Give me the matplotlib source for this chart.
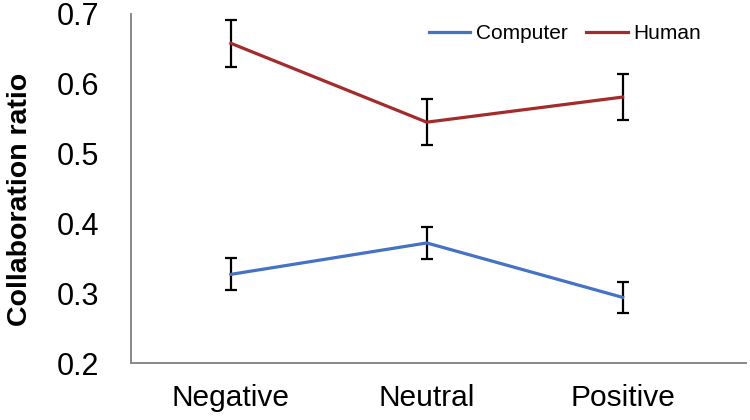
import matplotlib.pyplot as plt
import numpy as np

plt.rcParams['font.family'] = ['Liberation Sans', 'DejaVu Sans']

categories = ["Negative", "Neutral", "Positive"]
computer = [0.327, 0.372, 0.294]
computer_err = [0.023, 0.023, 0.022]
human = [0.658, 0.545, 0.581]
human_err = [0.034, 0.033, 0.033]

fig = plt.figure(figsize=(7.5, 4.2), dpi=100)
ax = fig.add_axes([0.1747, 0.1357, 0.82, 0.831])

x = np.arange(len(categories))
ax.errorbar(x, computer, yerr=computer_err, color='#4472C4', lw=2.3,
            ecolor='black', elinewidth=1.6, capsize=4.5, capthick=1.6, label='Computer')
ax.errorbar(x, human, yerr=human_err, color='#A52A2A', lw=2.3,
            ecolor='black', elinewidth=1.6, capsize=4.5, capthick=1.6, label='Human')

ax.set_xlim(-0.51, 2.63)
ax.set_ylim(0.2, 0.7)
ax.set_yticks([0.2, 0.3, 0.4, 0.5, 0.6, 0.7])
ax.set_yticklabels(["0.2", "0.3", "0.4", "0.5", "0.6", "0.7"])
ax.set_xticks(x)
ax.set_xticklabels(categories)
ax.tick_params(axis='y', length=0, pad=23, labelsize=22)
ax.tick_params(axis='x', length=0, pad=15, labelsize=21.5)
ax.set_ylabel("Collaboration ratio", fontsize=20.5, fontweight='bold')
ax.yaxis.set_label_coords(-0.16, 0.47)

for s in ['top', 'right']:
    ax.spines[s].set_visible(False)
for s in ['left', 'bottom']:
    ax.spines[s].set_color('#888888')
    ax.spines[s].set_linewidth(1.4)

handles, labels = ax.get_legend_handles_labels()
handles = [h[0] for h in handles]
ax.legend(handles, labels, loc='upper right', bbox_to_anchor=(0.957, 1.025), ncol=2,
          frameon=False, fontsize=15, handlelength=2.0, handletextpad=0.25,
          columnspacing=0.9)

fig.savefig("out.png", dpi=100)
